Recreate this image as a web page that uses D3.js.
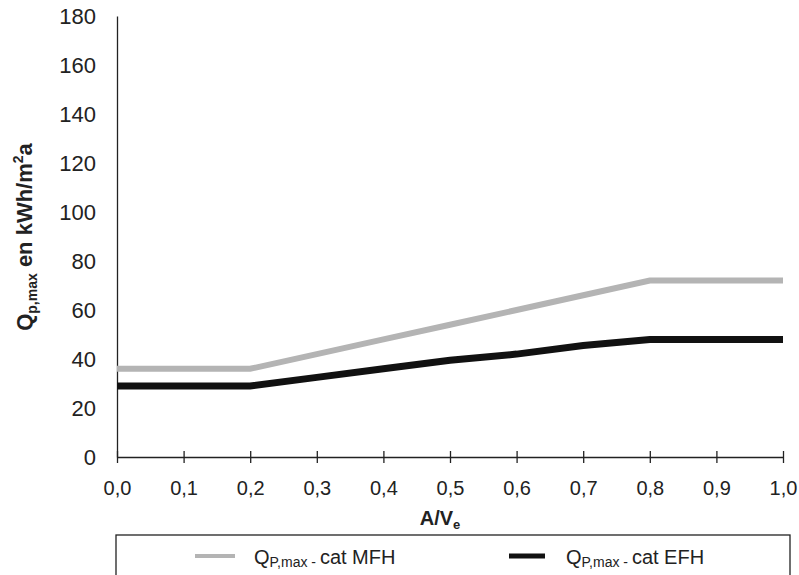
<!DOCTYPE html>
<html><head><meta charset="utf-8">
<script src="https://cdn.jsdelivr.net/npm/d3@7"></script>
<style>
body{margin:0;background:#fff;}
svg{display:block;font-family:"Liberation Sans",Arial,sans-serif;}
</style></head>
<body><svg id="c" width="799" height="575"></svg>
<script>
const xValues = [0.0,0.1,0.2,0.3,0.4,0.5,0.6,0.7,0.8,0.9,1.0];
const mfhValues = [36,36,36,42,48,54,60,66,72,72,72];
const efhValues = [29,29,29,32.5,36,39.5,42,45.5,48,48,48];
const xTicks = [0.0,0.1,0.2,0.3,0.4,0.5,0.6,0.7,0.8,0.9,1.0];
const yTicks = [0,20,40,60,80,100,120,140,160,180];
const seriesNames = ["MFH","EFH"];

const svg = d3.select("#c");
const x = d3.scaleLinear().domain([0,1]).range([117,783]);
const y = d3.scaleLinear().domain([0,180]).range([457,16]);

// y axis (line only, no ticks)
const yAxis = svg.append("g").attr("transform","translate(117,0)")
  .call(d3.axisLeft(y).tickValues(yTicks).tickSize(0).tickPadding(21).tickFormat(d3.format("d")));
yAxis.select(".domain").attr("stroke","#222").attr("stroke-width",1.3);
yAxis.selectAll("text").attr("font-size",22).attr("fill","#222");

// x axis with crossing ticks
const xAxis = svg.append("g").attr("transform","translate(0,457)")
  .call(d3.axisBottom(x).tickValues(xTicks).tickSizeInner(6).tickSizeOuter(0).tickPadding(18)
    .tickFormat(d=>d3.format(".1f")(d).replace(".",",")));
xAxis.select(".domain").attr("stroke","#222").attr("stroke-width",1.3);
xAxis.selectAll(".tick line").attr("y1",-6).attr("y2",6).attr("stroke","#222").attr("stroke-width",1.3);
xAxis.selectAll("text").attr("font-size",20).attr("fill","#222");

// lines
const line = d3.line().x((d,i)=>x(xValues[i])).y(d=>y(d));
svg.append("path").datum(mfhValues).attr("d",line)
  .attr("fill","none").attr("stroke","#b4b4b4").attr("stroke-width",6);
svg.append("path").datum(efhValues).attr("d",line)
  .attr("fill","none").attr("stroke","#111").attr("stroke-width",7);

// axis titles
const yt = svg.append("text").attr("transform","translate(32,237) rotate(-90)")
  .attr("text-anchor","middle").attr("font-size",22).attr("font-weight","bold").attr("fill","#222");
yt.append("tspan").text("Q");
yt.append("tspan").attr("font-size",14).attr("dy",5).text("p,max");
yt.append("tspan").attr("dy",-5).text(" en kWh/m");
yt.append("tspan").attr("font-size",14).attr("dy",-9).text("2");
yt.append("tspan").attr("dy",9).text("a");

const xt = svg.append("text").attr("x",440).attr("y",525)
  .attr("text-anchor","middle").attr("font-size",20).attr("font-weight","bold").attr("fill","#222");
xt.append("tspan").text("A/V");
xt.append("tspan").attr("font-size",13).attr("dy",4).text("e");

// legend
svg.append("rect").attr("x",116).attr("y",535).attr("width",674).attr("height",60)
  .attr("fill","none").attr("stroke","#222").attr("stroke-width",1.3);
const legendItems = [
  {name:seriesNames[0], x1:195, x2:235, tx:254, color:"#b4b4b4", w:4},
  {name:seriesNames[1], x1:509, x2:545, tx:566, color:"#111", w:5}
];
legendItems.forEach(it=>{
  svg.append("line").attr("x1",it.x1).attr("x2",it.x2).attr("y1",556).attr("y2",556)
    .attr("stroke",it.color).attr("stroke-width",it.w);
  const t = svg.append("text").attr("x",it.tx).attr("y",564).attr("font-size",20).attr("fill","#222");
  t.append("tspan").text("Q");
  t.append("tspan").attr("font-size",14).attr("dy",3).text("P,max - ");
  t.append("tspan").attr("dy",-3).text("cat " + it.name);
});
</script></body></html>
